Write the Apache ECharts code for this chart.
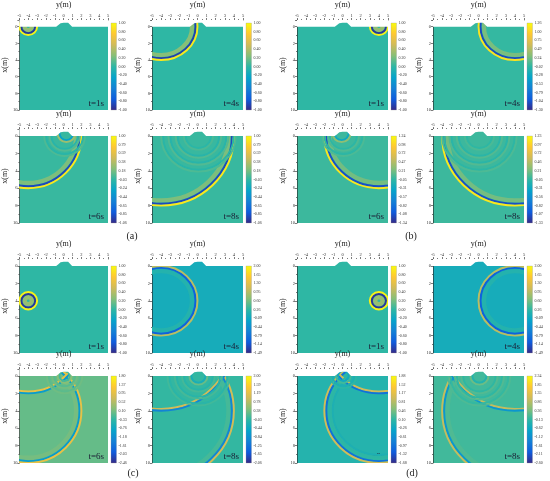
<!DOCTYPE html>
<html>
<head>
<meta charset="utf-8">
<title>wave field snapshots</title>
<script src="https://cdn.jsdelivr.net/npm/echarts@6/dist/echarts.min.js"></script>
<style>
    html, body { margin: 0; padding: 0; background: #fff; }
    #main { width: 550px; height: 481px; }
</style>
</head>
<body>
<div id="main"></div>
<script>
// labels
var groupNames = ['(a)', '(b)', '(c)', '(d)'];
var timeLabels = ['t=1s', 't=4s', 't=6s', 't=8s'];

// free surface with the hill, y(m) / x(m)
var topoY = [-5, -0.85, -0.6, -0.35, 0, 0.5, 0.7, 0.95, 5];
var topoX = [0, 0, -0.2, -0.42, -0.48, -0.48, -0.35, 0, 0];

// colour bar ticks, top -> bottom, one list per snapshot
var cbarA = [
    ['1.00', '0.80', '0.60', '0.40', '0.20', '0.00', '-0.20', '-0.40', '-0.60', '-0.80', '-1.00'],
    ['1.00', '0.80', '0.60', '0.40', '0.20', '0.00', '-0.20', '-0.40', '-0.60', '-0.80', '-1.00'],
    ['1.00', '0.79', '0.59', '0.38', '0.18', '-0.03', '-0.24', '-0.44', '-0.65', '-0.85', '-1.06'],
    ['1.00', '0.79', '0.59', '0.38', '0.18', '-0.03', '-0.24', '-0.44', '-0.65', '-0.85', '-1.06']
];
var cbarB = [
    ['1.00', '0.80', '0.60', '0.40', '0.20', '0.00', '-0.20', '-0.40', '-0.60', '-0.80', '-1.00'],
    ['1.26', '1.00', '0.75', '0.49', '0.24', '-0.02', '-0.28', '-0.53', '-0.79', '-1.04', '-1.30'],
    ['1.24', '0.98', '0.72', '0.47', '0.21', '-0.05', '-0.31', '-0.57', '-0.82', '-1.08', '-1.34'],
    ['1.23', '0.97', '0.72', '0.46', '0.21', '-0.05', '-0.31', '-0.56', '-0.82', '-1.07', '-1.33']
];
var cbarC = [
    ['1.00', '0.80', '0.60', '0.40', '0.20', '0.00', '-0.20', '-0.40', '-0.60', '-0.80', '-1.00'],
    ['2.00', '1.65', '1.30', '0.95', '0.60', '0.26', '-0.09', '-0.44', '-0.79', '-1.14', '-1.49'],
    ['1.80', '1.37', '0.95', '0.52', '0.10', '-0.33', '-0.76', '-1.18', '-1.61', '-2.03', '-2.46'],
    ['2.00', '1.59', '1.19', '0.78', '0.38', '-0.03', '-0.44', '-0.84', '-1.25', '-1.65', '-2.06']
];
var cbarD = [
    ['1.00', '0.80', '0.60', '0.40', '0.20', '0.00', '-0.20', '-0.40', '-0.60', '-0.80', '-1.00'],
    ['2.00', '1.65', '1.30', '0.95', '0.60', '0.26', '-0.09', '-0.44', '-0.79', '-1.14', '-1.49'],
    ['1.88', '1.52', '1.17', '0.81', '0.46', '0.10', '-0.26', '-0.61', '-0.97', '-1.32', '-1.68'],
    ['2.34', '1.85', '1.35', '0.86', '0.36', '-0.13', '-0.62', '-1.12', '-1.61', '-2.11', '-2.60']
];

// wave fronts: [yc, xc, radius, amplitude, tail]
var waveA = [
    [[-4, 0, 1.0, 0.95, 0.3]],
    [[-4, 0, 4.0, 0.9, 0.25]],
    [[-4, 0, 6.0, 0.9, 0.2], [0.3, -0.3, 1.0, 0.3, 0], [0.1, 0, 1.7, 0.07, 0], [0.1, 0, 2.3, 0.06, 0]],
    [[-4, 0, 8.0, 0.9, 0.2], [0.1, 0, 1.6, 0.05, 0], [0.1, 0, 2.5, 0.07, 0], [0.1, 0, 3.3, 0.07, 0], [0.1, 0, 4.1, 0.06, 0]]
];
var waveB = [
    [[4, 0, 1.0, 0.95, 0.3]],
    [[4, 0, 4.0, 1.1, 0.25]],
    [[4, 0, 6.0, 1.1, 0.2], [-0.1, -0.3, 1.0, 0.3, 0], [0.1, 0, 1.7, 0.07, 0], [0.1, 0, 2.3, 0.06, 0]],
    [[4, 0, 8.0, 1.1, 0.2], [0.1, 0, 1.6, 0.05, 0], [0.1, 0, 2.5, 0.08, 0], [0.1, 0, 3.3, 0.08, 0], [0.1, 0, 4.1, 0.06, 0]]
];
var waveC = [
    [[-4, 4, 1.0, 0.95, 0.3]],
    [[-4, 4, 4.0, 1.0, 0.15]],
    [[-4, 4, 6.0, 1.0, 0.1], [-4, -4, 6.0, -1.0, 0], [0.1, 0, 0.8, 0.2, 0], [0.1, 0, 1.4, 0.08, 0], [0.1, 0, 2.0, 0.06, 0]],
    [[-4, 4, 8.0, 1.0, 0.1], [-4, -4, 8.0, -1.0, 0], [0.1, 0, 1.0, 0.3, 0], [0.1, 0, 1.8, 0.1, 0], [0.1, 0, 2.6, 0.1, 0], [0.1, 0, 3.4, 0.08, 0]]
];
var waveD = [
    [[4, 4, 1.0, 0.95, 0.3]],
    [[4, 4, 4.0, 1.0, 0.15]],
    [[4, 4, 6.0, 1.0, 0.1], [4, -4, 6.0, -1.0, 0], [4, 4, 5.3, 0.08, 0], [0.1, 0, 0.8, 0.2, 0], [0.1, 0, 1.4, 0.08, 0]],
    [[4, 4, 8.0, 1.0, 0.1], [4, -4, 8.0, -1.0, 0], [0.1, 0, 1.0, 0.3, 0], [0.1, 0, 2.0, 0.12, 0], [0.1, 0, 2.7, 0.12, 0], [0.1, 0, 3.4, 0.09, 0]]
];

(function (win) {
    var chart = echarts.init(document.getElementById('main'));
    var serif = '"Liberation Serif", "DejaVu Serif", serif';
    var parula = ['#352A87', '#0F5CDD', '#1481D6', '#06A4CA', '#2EB7A4', '#87BF77', '#D1BB59', '#FEC832', '#F9FB0E'];
    var cbars = [cbarA, cbarB, cbarC, cbarD],
        waves = [waveA, waveB, waveC, waveD];

    // layout in px
    var cols = [17, 152, 297, 433],
        surf = [23, 136, 266, 376],
        plotW = 91,
        depthH = 87,
        airH = 7,
        ringW = 0.22;

    function hex2rgb(h) {
        return [parseInt(h.substr(1, 2), 16), parseInt(h.substr(3, 2), 16), parseInt(h.substr(5, 2), 16)];
    }

    function cmap(v, lo, hi) {
        var f = (v - lo) / (hi - lo);
        f = Math.max(0, Math.min(1, f));
        var p = f * (parula.length - 1),
            i = Math.min(Math.floor(p), parula.length - 2),
            t = p - i,
            a = hex2rgb(parula[i]),
            b = hex2rgb(parula[i + 1]);
        return 'rgb(' + Math.round(a[0] + (b[0] - a[0]) * t) + ',' +
            Math.round(a[1] + (b[1] - a[1]) * t) + ',' +
            Math.round(a[2] + (b[2] - a[2]) * t) + ')';
    }

    function barGradient() {
        var stops = [];
        for (var i = 0; i < parula.length; i++) {
            stops.push({ offset: i / (parula.length - 1), color: parula[parula.length - 1 - i] });
        }
        return new echarts.graphic.LinearGradient(0, 0, 0, 1, stops);
    }

    function makeRender(lo, hi) {
        return function (params, api) {
            var c = api.coord([api.value(0), api.value(1)]);
            var r = api.value(2), amp = api.value(3), tail = api.value(4);
            var sx = api.size([1, 0])[0], sy = api.size([0, 1])[1];
            var kids = [];

            function ring(rad, color, w) {
                if (rad <= 0) return;
                kids.push({
                    type: 'ellipse',
                    shape: { cx: c[0], cy: c[1], rx: rad * sx, ry: rad * sy },
                    style: { fill: 'none', stroke: color, lineWidth: w * sy }
                });
            }
            if (tail) ring(Math.max(r - 0.6, 0.2), cmap(tail, lo, hi), 0.5);
            ring(r - ringW, cmap(-amp, lo, hi), ringW);
            ring(r, cmap(amp, lo, hi), ringW);
            return { type: 'group', children: kids };
        };
    }

    var option = {
        animation: false,
        backgroundColor: '#fff',
        grid: [],
        xAxis: [],
        yAxis: [],
        series: [],
        graphic: []
    };

    var topo = topoY.map(function (y, i) { return [y, topoX[i]]; });
    var lineStyle = { color: '#222', width: 0.6 };

    function buildPanel(g, t) {
        var col = (g % 2) * 2 + (t % 2),
            row = Math.floor(g / 2) * 2 + Math.floor(t / 2),
            ticks = cbars[g][t],
            hi = parseFloat(ticks[0]),
            lo = parseFloat(ticks[ticks.length - 1]),
            idx = option.grid.length;

        // field
        option.grid.push({
            left: cols[col], top: surf[row] - airH, width: plotW, height: depthH + airH,
            show: true, borderWidth: 0, backgroundColor: cmap(0, lo, hi)
        });
        option.xAxis.push({
            gridIndex: idx, type: 'value', position: 'top', min: -5, max: 5, interval: 1,
            name: 'y(m)', nameLocation: 'middle', nameGap: 11,
            nameTextStyle: { fontFamily: serif, fontSize: 8, color: '#222' },
            axisLine: { onZero: false, lineStyle: lineStyle },
            axisTick: { length: 2, lineStyle: lineStyle },
            minorTick: { show: true, splitNumber: 2, length: 1, lineStyle: lineStyle },
            axisLabel: { fontFamily: serif, fontSize: 4.5, margin: 1.5, color: '#333' },
            splitLine: { show: false }
        });
        option.yAxis.push({
            gridIndex: idx, type: 'value', inverse: true, min: -0.8, max: 10,
            minInterval: 2, maxInterval: 2,
            name: 'x(m)', nameLocation: 'middle', nameGap: 10, nameRotate: 90,
            nameTextStyle: { fontFamily: serif, fontSize: 8, color: '#222' },
            axisLine: { onZero: false, lineStyle: lineStyle },
            axisTick: { length: 2, lineStyle: lineStyle },
            minorTick: { show: true, splitNumber: 2, length: 1, lineStyle: lineStyle },
            axisLabel: {
                fontFamily: serif, fontSize: 4.5, margin: 2, color: '#333',
                formatter: function (v) { return v < 0 ? '' : v; }
            },
            splitLine: { show: false }
        });
        option.series.push({
            type: 'custom', xAxisIndex: idx, yAxisIndex: idx, clip: true, silent: true, z: 2,
            renderItem: makeRender(lo, hi),
            data: waves[g][t]
        });
        option.series.push({
            type: 'line', xAxisIndex: idx, yAxisIndex: idx, silent: true, z: 3,
            symbol: 'none', data: topo,
            lineStyle: { width: 0 },
            areaStyle: { color: '#fff', opacity: 1, origin: 'start' }
        });

        // colour bar
        option.grid.push({
            left: cols[col] + 94, top: surf[row], width: 5.5, height: depthH,
            show: true, borderColor: '#999', borderWidth: 0.3, backgroundColor: barGradient()
        });
        option.xAxis.push({ gridIndex: idx + 1, type: 'value', min: 0, max: 1, show: false });
        option.yAxis.push({
            gridIndex: idx + 1, type: 'category', position: 'right', boundaryGap: false,
            data: ticks.slice().reverse(),
            axisLine: { show: false },
            axisTick: { show: false },
            axisLabel: { interval: 0, fontFamily: serif, fontSize: 4, margin: 2, color: '#333' }
        });

        option.graphic.push({
            type: 'text', silent: true,
            x: cols[col] + plotW - 4, y: surf[row] + depthH - 2,
            style: {
                text: timeLabels[t], font: '9px ' + serif, fill: '#1b1b33',
                textAlign: 'right', textVerticalAlign: 'bottom', align: 'right', verticalAlign: 'bottom'
            }
        });
    }

    function initPage() {
        for (var g = 0; g < 4; g++) {
            for (var t = 0; t < 4; t++) {
                buildPanel(g, t);
            }
        }
        var labelPos = [[132, 236], [411, 236], [133, 473], [412, 473]];
        groupNames.forEach(function (name, i) {
            option.graphic.push({
                type: 'text', silent: true,
                x: labelPos[i][0], y: labelPos[i][1],
                style: {
                    text: name, font: '10px ' + serif, fill: '#222',
                    textAlign: 'center', textVerticalAlign: 'middle', align: 'center', verticalAlign: 'middle'
                }
            });
        });
        chart.setOption(option);
    }

    initPage();
})(this);
</script>
</body>
</html>
